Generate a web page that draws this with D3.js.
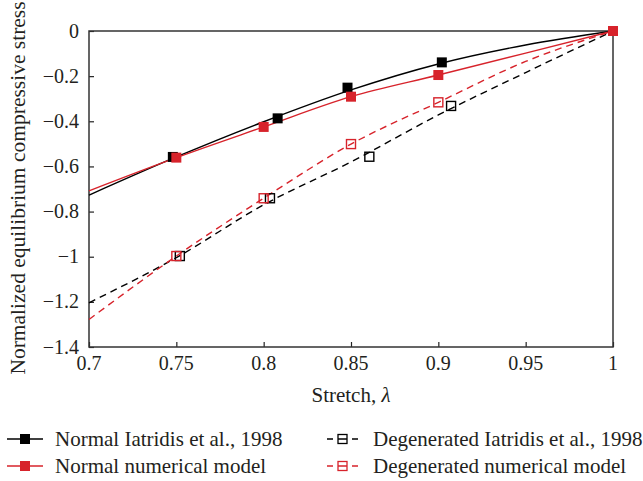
<!DOCTYPE html>
<html>
<head>
<meta charset="utf-8">
<script src="https://cdnjs.cloudflare.com/ajax/libs/d3/7.8.5/d3.min.js"></script>
<style>
body { margin:0; background:#fff; }
text { font-family:"Liberation Serif", "DejaVu Serif", serif; fill:#231f20; }
</style>
</head>
<body>
<svg width="643" height="481"></svg>
<script>
// markers
var normalIatridisX = [0.748, 0.808, 0.848, 0.902, 1.0]
var normalIatridisY = [-0.558, -0.387, -0.251, -0.139, 0]
var normalModelX = [0.75, 0.80, 0.85, 0.90, 1.0]
var normalModelY = [-0.561, -0.425, -0.291, -0.195, 0]
var degIatridisX = [0.752, 0.8036, 0.8605, 0.9073, 1.0]
var degIatridisY = [-0.997, -0.741, -0.557, -0.332, 0]
var degModelX = [0.75, 0.80, 0.85, 0.90, 1.0]
var degModelY = [-0.997, -0.741, -0.501, -0.316, 0]

// fitted curves, sampled by eye at these stretch values
var curveX = [0.7, 0.75, 0.8, 0.85, 0.9, 0.95, 1.0]
var normalIatridisCurve = [-0.727, -0.558, -0.402, -0.261, -0.146, -0.062, 0]
var normalModelCurve = [-0.708, -0.561, -0.425, -0.291, -0.195, -0.098, 0]
var degIatridisCurve = [-1.204, -1.004, -0.77, -0.58, -0.372, -0.184, 0]
var degModelCurve = [-1.278, -0.997, -0.741, -0.501, -0.316, -0.135, 0]

var xTicks = [0.7, 0.75, 0.8, 0.85, 0.9, 0.95, 1]
var yTicks = [0, -0.2, -0.4, -0.6, -0.8, -1, -1.2, -1.4]

var legendNames = ["Normal Iatridis et al., 1998", "Normal numerical model",
                   "Degenerated Iatridis et al., 1998", "Degenerated numerical model"]

var red = "#d7232b"

var svg = d3.select("svg")
var plot = {left:89, right:613, top:31, bottom:347}

var xScale = d3.scaleLinear().domain([0.7,1]).range([plot.left,plot.right])
var yScale = d3.scaleLinear().domain([-1.4,0]).range([plot.bottom,plot.top])

var fmt = function(v){ return v < 0 ? "\u2212" + String(-v) : String(v) }

//axes
svg.append("g")
    .attr("transform","translate(0,"+plot.bottom+")")
    .call(d3.axisTop(xScale).tickValues(xTicks).tickSize(5).tickFormat(""))
    .call(function(g){ g.select(".domain").remove() })
    .selectAll("line").attr("stroke","#222").attr("stroke-width",1.2)

svg.append("g")
    .attr("transform","translate("+plot.left+",0)")
    .call(d3.axisRight(yScale).tickValues(yTicks).tickSize(5).tickFormat(""))
    .call(function(g){ g.select(".domain").remove() })
    .selectAll("line").attr("stroke","#222").attr("stroke-width",1.2)

svg.append("rect")
    .attr("x",plot.left).attr("y",plot.top)
    .attr("width",plot.right-plot.left).attr("height",plot.bottom-plot.top)
    .attr("fill","none").attr("stroke","#333").attr("stroke-width",1.5)

svg.selectAll(".xlab").data(xTicks).enter().append("text")
    .attr("class","xlab")
    .attr("x",function(d){return xScale(d)})
    .attr("y",plot.bottom+23)
    .attr("text-anchor","middle")
    .style("font-size","20px")
    .text(function(d){return String(d)})

svg.selectAll(".ylab").data(yTicks).enter().append("text")
    .attr("class","ylab")
    .attr("x",plot.left-10)
    .attr("y",function(d){return yScale(d)+6.5})
    .attr("text-anchor","end")
    .style("font-size","20px")
    .text(fmt)

var xTitle = svg.append("text")
    .attr("x",(plot.left+plot.right)/2)
    .attr("y",plot.bottom+55)
    .attr("text-anchor","middle")
    .style("font-size","21px")
xTitle.append("tspan").text("Stretch, ")
xTitle.append("tspan").style("font-style","italic").text("\u03bb")

svg.append("text")
    .attr("transform","translate(25,188) rotate(-90)")
    .attr("text-anchor","middle")
    .style("font-size","21.5px")
    .text("Normalized equilibrium compressive stress")

//lines
var line = d3.line()
    .x(function(d){return xScale(d[0])})
    .y(function(d){return yScale(d[1])})
    .curve(d3.curveMonotoneX)

var drawCurve = function(ys, color, dash)
{
    svg.append("path")
        .datum(curveX.map(function(x,i){return [x, ys[i]]}))
        .attr("d",line)
        .attr("fill","none")
        .attr("stroke",color)
        .attr("stroke-width",1.4)
        .attr("stroke-dasharray",dash)
}
drawCurve(degIatridisCurve,"#000","7,5")
drawCurve(degModelCurve,red,"7,5")
drawCurve(normalIatridisCurve,"#000",null)
drawCurve(normalModelCurve,red,null)

//markers
var drawSquares = function(xs, ys, color, filled)
{
    var size = filled ? 10 : 9
    svg.append("g").selectAll("rect")
        .data(xs.map(function(x,i){return [x, ys[i]]}))
        .enter().append("rect")
        .attr("x",function(d){return xScale(d[0])-size/2})
        .attr("y",function(d){return yScale(d[1])-size/2})
        .attr("width",size).attr("height",size)
        .attr("fill",filled ? color : "none")
        .attr("stroke",color)
        .attr("stroke-width",filled ? 0 : 1.4)
}
drawSquares(degIatridisX.slice(0,4),degIatridisY.slice(0,4),"#000",false)
drawSquares(degModelX.slice(0,4),degModelY.slice(0,4),red,false)
drawSquares(normalIatridisX,normalIatridisY,"#000",true)
drawSquares(normalModelX,normalModelY,red,true)

//legend
var legendSpots = [{x:7,y:439},{x:7,y:466},{x:327,y:439},{x:327,y:466}]
var legendColors = ["#000",red,"#000",red]
legendNames.forEach(function(name,i)
{
    var p = legendSpots[i]
    var g = svg.append("g").attr("transform","translate("+p.x+","+p.y+")")
    if(i < 2)
    {
        g.append("line").attr("x1",0).attr("x2",36).attr("y1",0).attr("y2",0)
            .attr("stroke",legendColors[i]).attr("stroke-width",1.4)
        g.append("rect").attr("x",13).attr("y",-5).attr("width",10).attr("height",10)
            .attr("fill",legendColors[i])
        g.append("text").attr("x",48).attr("y",7).style("font-size","21px").text(name)
    }
    else
    {
        g.append("line").attr("x1",0).attr("x2",31).attr("y1",0).attr("y2",0)
            .attr("stroke",legendColors[i]).attr("stroke-width",1.4)
            .attr("stroke-dasharray","6,5,9,5,6")
        g.append("rect").attr("x",11).attr("y",-4.5).attr("width",9).attr("height",9)
            .attr("fill","none").attr("stroke",legendColors[i]).attr("stroke-width",1.3)
        g.append("text").attr("x",46).attr("y",7).style("font-size","21px").text(name)
    }
})
</script>
</body>
</html>
